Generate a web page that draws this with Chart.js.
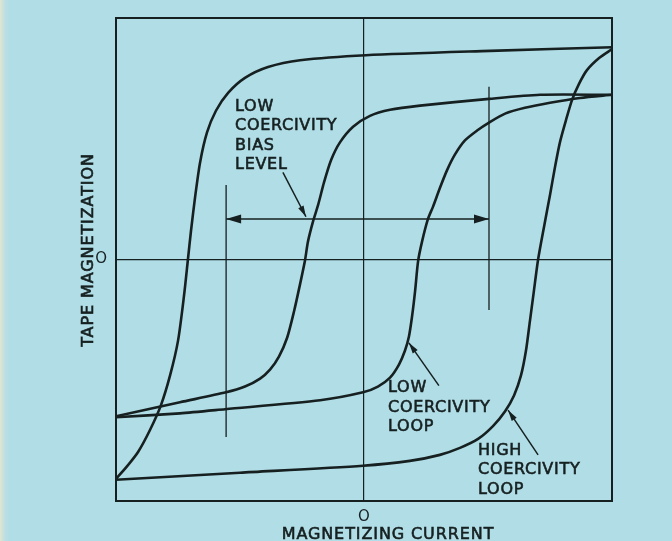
<!DOCTYPE html>
<html>
<head>
<meta charset="utf-8">
<script src="https://cdn.jsdelivr.net/npm/chart.js@4"></script>
<style>
  html, body { margin: 0; padding: 0; background: #b3dee6; }
</style>
</head>
<body>
<canvas id="loopChart" width="672" height="541"></canvas>
<script>
// Hysteresis branches as [current, magnetization] pairs, both normalised to -1..1
const highDown = [[1.0,0.879],[0.508,0.864],[0.008,0.846],[-0.258,0.825],[-0.387,0.797],[-0.480,0.752],[-0.548,0.690],[-0.597,0.616],[-0.633,0.526],[-0.661,0.402],[-0.681,0.259],[-0.698,0.115],[-0.710,0],[-0.726,-0.152],[-0.750,-0.337],[-0.782,-0.480],[-0.819,-0.604],[-0.863,-0.706],[-0.911,-0.797],[-0.960,-0.862],[-1.0,-0.908]];
const highUp = [[-1.0,-0.912],[-0.5,-0.883],[-0.004,-0.854],[0.185,-0.834],[0.306,-0.809],[0.387,-0.780],[0.460,-0.743],[0.520,-0.690],[0.569,-0.628],[0.605,-0.563],[0.633,-0.480],[0.653,-0.378],[0.669,-0.255],[0.685,-0.131],[0.702,0],[0.726,0.136],[0.750,0.267],[0.770,0.382],[0.790,0.485],[0.815,0.579],[0.839,0.661],[0.867,0.727],[0.899,0.784],[0.948,0.834],[1.0,0.871]];
const lowDown = [[1.0,0.682],[0.71,0.682],[0.504,0.665],[0.226,0.637],[0.105,0.620],[0.024,0.595],[-0.044,0.550],[-0.097,0.485],[-0.133,0.411],[-0.161,0.320],[-0.185,0.226],[-0.206,0.156],[-0.226,0.074],[-0.238,-0.004],[-0.258,-0.103],[-0.282,-0.214],[-0.310,-0.324],[-0.343,-0.402],[-0.379,-0.456],[-0.419,-0.493],[-0.480,-0.526],[-0.556,-0.550],[-0.742,-0.591],[-1.0,-0.649]];
const lowUp = [[-1.0,-0.653],[-0.742,-0.637],[-0.560,-0.620],[-0.177,-0.583],[-0.004,-0.550],[0.056,-0.526],[0.105,-0.489],[0.141,-0.435],[0.165,-0.378],[0.181,-0.320],[0.194,-0.234],[0.206,-0.131],[0.218,-0.008],[0.234,0.074],[0.258,0.168],[0.278,0.218],[0.306,0.296],[0.335,0.370],[0.367,0.435],[0.407,0.493],[0.456,0.534],[0.504,0.567],[0.569,0.604],[0.649,0.628],[0.750,0.649],[0.871,0.669],[1.0,0.682]];

// Bias level markers
const biasLeft = [[-0.556,0.308],[-0.556,-0.735]];
const biasRight = [[0.504,0.715],[0.504,-0.209]];
const biasSpan = [[-0.556,0.168],[0.504,0.168]];

// Callout leaders: label end first, arrow tip last
const biasLeader = [[-0.327,0.361],[-0.234,0.177]];
const lowLeader = [[0.302,-0.522],[0.181,-0.345]];
const highLeader = [[0.702,-0.809],[0.581,-0.624]];

// Callout text, anchored at the first baseline
const biasText = ['LOW', 'COERCIVITY', 'BIAS', 'LEVEL'];
const biasTextAt = [-0.52, 0.616];
const lowText = ['LOW', 'COERCIVITY', 'LOOP'];
const lowTextAt = [0.097, -0.550];
const highText = ['HIGH', 'COERCIVITY', 'LOOP'];
const highTextAt = [0.46, -0.809];

const xTitle = 'MAGNETIZING CURRENT';
const yTitle = 'TAPE MAGNETIZATION';

const ink = '#162020';
const paper = '#b1dde6';
const labelFont = '16px "DejaVu Sans"';

const pts = arr => arr.map(([x, y]) => ({ x, y }));

function curve(arr) {
    return { data: pts(arr), showLine: true, borderColor: ink, borderWidth: 2.6,
             pointRadius: 0, tension: 0.25, fill: false };
}
function rule(arr, w) {
    return { data: pts(arr), showLine: true, borderColor: ink, borderWidth: w,
             pointRadius: 0, tension: 0, fill: false };
}

function arrowHead(ctx, x0, y0, x1, y1, len, half) {
    const a = Math.atan2(y1 - y0, x1 - x0);
    ctx.beginPath();
    ctx.moveTo(x1, y1);
    ctx.lineTo(x1 - len * Math.cos(a) + half * Math.sin(a), y1 - len * Math.sin(a) - half * Math.cos(a));
    ctx.lineTo(x1 - len * Math.cos(a) - half * Math.sin(a), y1 - len * Math.sin(a) + half * Math.cos(a));
    ctx.closePath();
    ctx.fill();
}

// lettering is a little heavier than the plain face, so stroke over the fill
function letter(ctx, text, x, y) {
    ctx.fillText(text, x, y);
    ctx.strokeText(text, x, y);
}

const sketchPlugin = {
    id: 'sketch',
    beforeDraw(chart) {
        const { ctx, width, height } = chart;
        ctx.save();
        ctx.fillStyle = paper;
        ctx.fillRect(0, 0, width, height);
        // faded strip down the left edge of the page
        const g = ctx.createLinearGradient(0, 0, 10, 0);
        g.addColorStop(0, '#e4e6cf');
        g.addColorStop(1, 'rgba(177,221,230,0)');
        ctx.fillStyle = g;
        ctx.fillRect(0, 0, 10, height);
        ctx.restore();
    },
    afterDatasetsDraw(chart) {
        const { ctx, chartArea: a, scales: { x, y } } = chart;
        const px = p => [x.getPixelForValue(p[0]), y.getPixelForValue(p[1])];
        ctx.save();

        // plot frame
        ctx.strokeStyle = ink;
        ctx.lineWidth = 2;
        ctx.strokeRect(a.left, a.top, a.right - a.left, a.bottom - a.top);

        ctx.fillStyle = ink;
        // double-headed bias arrow
        const s0 = px(biasSpan[0]), s1 = px(biasSpan[1]);
        arrowHead(ctx, s1[0], s1[1], s0[0], s0[1], 15, 4.5);
        arrowHead(ctx, s0[0], s0[1], s1[0], s1[1], 15, 4.5);
        // callout arrows
        [biasLeader, lowLeader, highLeader].forEach(l => {
            const p0 = px(l[0]), p1 = px(l[1]);
            arrowHead(ctx, p0[0], p0[1], p1[0], p1[1], 11, 3);
        });

        // callout text
        ctx.font = labelFont;
        ctx.letterSpacing = '0.7px';
        ctx.lineWidth = 0.6;
        ctx.textAlign = 'left';
        ctx.textBaseline = 'alphabetic';
        [[biasText, biasTextAt], [lowText, lowTextAt], [highText, highTextAt]].forEach(([lines, at]) => {
            const p = px(at);
            lines.forEach((t, i) => letter(ctx, t, p[0], p[1] + i * 19.5));
        });

        // axis titles
        ctx.letterSpacing = '0.9px';
        ctx.textAlign = 'center';
        letter(ctx, xTitle, 388, 539);
        ctx.translate(93, 250);
        ctx.rotate(-Math.PI / 2);
        letter(ctx, yTitle, 0, 0);
        ctx.restore();
    }
};

const zeroGrid = c => (c.tick && c.tick.value === 0 ? ink : 'rgba(0,0,0,0)');
const zeroLabel = v => (v === 0 ? 'O' : '');

new Chart(document.getElementById('loopChart').getContext('2d'), {
    type: 'scatter',
    data: {
        datasets: [
            curve(highDown), curve(highUp), curve(lowDown), curve(lowUp),
            rule(biasLeft, 1.3), rule(biasRight, 1.3), rule(biasSpan, 1.4),
            rule(biasLeader, 1.5), rule(lowLeader, 1.5), rule(highLeader, 1.5)
        ]
    },
    options: {
        responsive: false,
        animation: false,
        layout: { padding: { top: 14, right: 60, left: 0, bottom: 0 } },
        plugins: { legend: { display: false }, tooltip: { enabled: false } },
        scales: {
            x: {
                type: 'linear', min: -1, max: 1,
                ticks: { stepSize: 1, callback: zeroLabel, color: ink, maxRotation: 0,
                         autoSkip: false, padding: 7, font: { family: 'DejaVu Sans', size: 15 } },
                grid: { color: zeroGrid, lineWidth: 1.2, drawTicks: false },
                border: { display: false },
                afterFit: s => { s.height = 40; }
            },
            y: {
                type: 'linear', min: -1, max: 1,
                ticks: { stepSize: 1, callback: zeroLabel, color: ink,
                         autoSkip: false, padding: 9, font: { family: 'DejaVu Sans', size: 15 } },
                grid: { color: zeroGrid, lineWidth: 1.2, drawTicks: false },
                border: { display: false },
                afterFit: s => { s.width = 116; }
            }
        }
    },
    plugins: [sketchPlugin]
});
</script>
</body>
</html>
